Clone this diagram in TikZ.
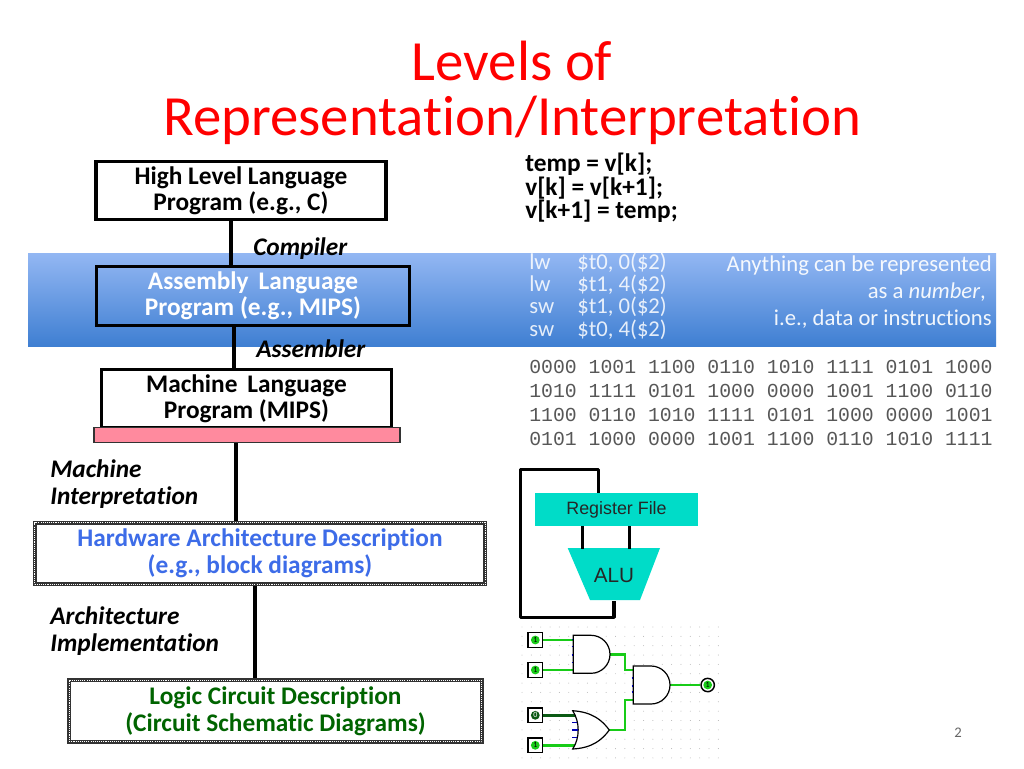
\documentclass[tikz,border=0pt]{standalone}
\usepackage{fontspec}
\setmainfont[Ligatures=NoCommon]{Carlito}
\newfontfamily\monof{Liberation Mono}
\newfontfamily\helv{Liberation Sans}
\usetikzlibrary{calc}
\definecolor{bandtop}{HTML}{93B7F3}
\definecolor{bandbot}{HTML}{3F7FD2}
\definecolor{pinkbar}{HTML}{FF8A9E}
\definecolor{hwblue}{HTML}{3D6CE8}
\definecolor{logicgreen}{HTML}{006400}
\definecolor{teal}{HTML}{00DCC8}
\definecolor{wiregreen}{HTML}{18CC18}
\definecolor{wiredark}{HTML}{0B5A14}
\tikzset{
 lvlbox/.style={draw=black,line width=2.4pt,inner sep=0pt,align=center,font=\fontsize{19}{19.6}\selectfont\bfseries},
 dotbox/.style={draw=black!80,line width=3pt,inner sep=0pt,align=center,font=\fontsize{19}{20}\selectfont\bfseries,
   postaction={draw=white,line width=.6pt,dash pattern=on .8pt off .8pt}},
 conn/.style={draw=black,line width=2.4pt},
 lbl/.style={font=\fontsize{19}{19.6}\selectfont\bfseries\itshape,inner sep=0pt,align=left},
 codeb/.style={anchor=base west,inner sep=0pt,font=\fontsize{19}{19}\selectfont\bfseries},
 coder/.style={anchor=base west,inner sep=0pt,font=\fontsize{17}{17}\selectfont,text=white,text opacity=.85},
 mono/.style={anchor=base west,inner sep=0pt,text=black!66,font=\fontsize{14.85}{15}\monof},
 note/.style={anchor=base east,inner sep=0pt,text=white,text opacity=.92,font=\fontsize{17}{17}\selectfont},
 blockw/.style={draw=black,line width=2.4pt,line join=round},
 inbox/.style={draw=black,fill=white,line width=1.1pt,minimum size=11pt,inner sep=0pt},
 gate/.style={draw=black,line width=.9pt,fill=white},
 gw/.style={draw=wiregreen,line width=1.8pt},
 tick/.style={draw=blue!70!black,line width=.9pt},
 pin/.style={fill=wiregreen,circle,minimum size=6.6pt,inner sep=0pt,font=\fontsize{6}{6}\selectfont},
 titletxt/.style={text=red,font=\fontsize{42.6}{42.6}\selectfont,inner sep=0pt,anchor=base},
}
\begin{document}
\begin{tikzpicture}[x=0.75pt,y=-0.75pt]
\useasboundingbox (0,0) rectangle (1024,768);
\fill[white] (0,0) rectangle (1024,768);
% title
\node[titletxt] (t1) at (512,80) {Levels of};
\node[titletxt] (t2) at (512,135) {Representation/Interpretation};
% band
\shade[top color=bandtop,bottom color=bandbot] (28,253) rectangle (996,346);
% boxes
\node[lvlbox,minimum width=217.5pt,minimum height=44pt] (hll) at (241,190.5) {High Level Language\\Program (e.g., C)};
\node[lvlbox,text=white,minimum width=235pt,minimum height=44pt] (asm) at (253,296) {Assembly\, Language\\Program (e.g., MIPS)};
\node[lvlbox,minimum width=218pt,minimum height=44pt] (mach) at (246.5,398.5) {Machine\, Language\\Program (MIPS)};
\node[draw=black!80,line width=.9pt,fill=pinkbar,minimum width=229.5pt,minimum height=11pt,inner sep=0pt] (pink) at (247,435) {};
\node[dotbox,text=hwblue,minimum width=338pt,minimum height=46pt] (hw) at (260,553.5) {Hardware Architecture Description\\(e.g., block diagrams)};
\node[dotbox,text=logicgreen,minimum width=309.5pt,minimum height=46pt] (logic) at (275.5,711) {Logic Circuit Description\\(Circuit Schematic Diagrams)};
% connector x positions
\coordinate (c1) at (231,0);\coordinate (c2) at (234,0);\coordinate (c3) at (236,0);\coordinate (c4) at (255,0);
\draw[conn] (hll.south -| c1) -- (asm.north -| c1);
\draw[conn] (asm.south -| c2) -- (mach.north -| c2);
\draw[conn] (pink.south -| c3) -- (hw.north -| c3);
\draw[conn] (hw.south -| c4) -- (logic.north -| c4);
% labels
\node[lbl,anchor=base west] (l1) at (253,255) {Compiler};
\node[lbl,anchor=base west] (l2) at (256,357) {Assembler};
\node[lbl,anchor=north west,yshift=2pt] (l3) at (50,462.5) {Machine\\[0pt]Interpretation};
\node[lbl,anchor=north west,yshift=2pt] (l4) at (50,609.5) {Architecture\\[0pt]Implementation};
% code
\node[codeb] (a1) at (525,171) {temp = v[k];};
\node[codeb] (a2) at (525,195) {v[k] = v[k+1];};
\node[codeb] (a3) at (525,218) {v[k+1] = temp;};
\node[coder] (b1) at (529,269) {lw};\node[coder] (b1b) at (577,269) {\$t0, 0(\$2)};
\node[coder] (b2) at (529,291) {lw};\node[coder] (b2b) at (577,291) {\$t1, 4(\$2)};
\node[coder] (b3) at (529,313) {sw};\node[coder] (b3b) at (577,313) {\$t1, 0(\$2)};
\node[coder] (b4) at (529,336) {sw};\node[coder] (b4b) at (577,336) {\$t0, 4(\$2)};
\node[note] (n1) at (992,271.5) {Anything can be represented};
\node[note] (n2) at (986,298.5) {as a \textit{number},};
\node[note] (n3) at (992,325.5) {i.e., data or instructions};
\node[mono] (m1) at (529,373) {0000 1001 1100 0110 1010 1111 0101 1000};
\node[mono] (m2) at (529,397) {1010 1111 0101 1000 0000 1001 1100 0110};
\node[mono] (m3) at (529,421) {1100 0110 1010 1111 0101 1000 0000 1001};
\node[mono] (m4) at (529,445) {0101 1000 0000 1001 1100 0110 1010 1111};
% dots
\foreach \i in {0,...,21}\foreach \j in {0,...,14}{\fill[black!30] (522+9.35*\i,627+9.35*\j) circle (.35pt);}
% block diagram
\fill[teal] (567.7,548) -- (660,548) -- (640,600) -- (590,600) -- cycle;
\node[fill=teal,minimum width=122pt,minimum height=25pt,inner sep=0pt,font=\fontsize{13.4}{14}\helv,text=black!85] (reg) at (616.5,509.5) {\raisebox{-5.5pt}{Register File}};
\node[minimum width=69pt,minimum height=39pt,inner sep=0pt,font=\fontsize{15.5}{15.5}\helv,text=black!85] (alu) at (614,575) {ALU};
\coordinate (w1) at (598.3,469.3);\coordinate (w2) at (520.7,469.3);\coordinate (w3) at (520.7,617.3);\coordinate (w4) at (614,617.3);
\draw[blockw,line cap=butt] (reg.north -| w1) -- (w1) -- (w2) -- (w3) -- (w4) -- (alu.south -| w4);
\coordinate (u1) at (582.7,0);\coordinate (u2) at (629.3,0);
\draw[blockw] (reg.south -| u1) -- (alu.north -| u1);
\draw[blockw] (reg.south -| u2) -- (alu.north -| u2);
% circuit
\node[inbox] (i1) at (535.3,640) {};
\node[inbox] (i2) at (535.3,670) {};
\node[inbox] (i3) at (535.3,715.3) {};
\node[inbox] (i4) at (535.3,745.3) {};
\node[draw=black,line width=1.1pt,circle,minimum size=10pt,inner sep=0pt,fill=white] (out) at (707.7,685) {};
\draw[gw] (i1.east) -- (573.3,640);
\draw[gw] (i2.east) -- (573.3,670);
\draw[draw=wiredark,line width=1.8pt] (i3.east) -- (575,715.3);
\draw[gw] (i4.east) -- (575,745.3);
\coordinate (g1out) at (610,654.3);\coordinate (g2out) at (670,685);\coordinate (g3out) at (609.3,730);
\draw[gw] (g1out) -- (625,654.3) -- (625,670) -- (633.3,670);
\draw[gw] (g3out) -- (625,730) -- (625,700) -- (633.3,700);
\draw[gw] (g2out) -- (out.west);
\draw[gate] (573.3,635.3) -- (591,635.3) arc[start angle=-90,end angle=90,radius=19] -- (573.3,673.3) -- cycle;
\draw[gate] (633.3,666) -- (651,666) arc[start angle=-90,end angle=90,radius=19] -- (633.3,704) -- cycle;
\draw[gate] (572.7,710.7) .. controls (592,712) and (602,720) .. (609.3,730) .. controls (602,740) and (592,748) .. (572.7,749) .. controls (580,738) and (580,722) .. (572.7,710.7) -- cycle;
\foreach \y in {639.5,646.5,655,662.5}{\draw[tick] (571.5,\y) -- (573.3,\y);}
\foreach \y in {678,686,692}{\draw[tick] (631.5,\y) -- (633.3,\y);}
\draw[tick] (572,722.5) -- (577,722.5);
\draw[tick] (572,730) -- (578,730);
\draw[tick] (572,737.5) -- (577,737.5);
\node[pin] (p1) at (i1) {1};\node[pin] (p2) at (i2) {1};
\node[pin,fill=wiredark,text=white] (p3) at (i3) {0};\node[pin] (p4) at (i4) {1};
\node[pin] (p5) at (out) {1};
% page number
\node[text=black!60,inner sep=0pt,font=\fontsize{11}{11}\selectfont] (pg) at (958,733) {2};
\end{tikzpicture}
\end{document}
